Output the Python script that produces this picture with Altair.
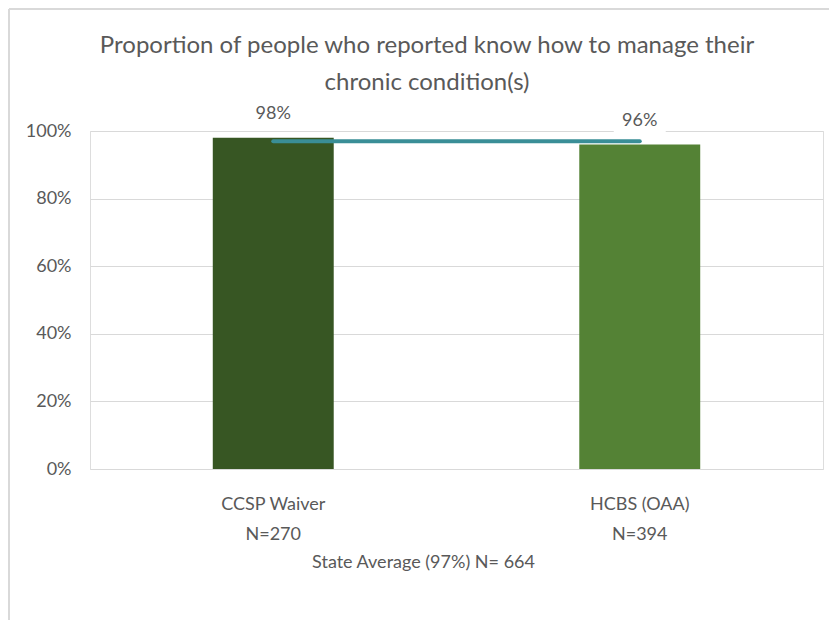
import altair as alt
import pandas as pd

# ---- data ----
categories = ["CCSP Waiver", "HCBS (OAA)"]
n_values = [270, 394]
shares = [0.98, 0.96]
state_average = 0.97
state_n = 664
bar_colors = ["#375623", "#548235"]

title_lines = ["Proportion of people who reported know how to manage their",
               "chronic condition(s)"]
y_ticks = [0, 0.2, 0.4, 0.6, 0.8, 1.0]

df = pd.DataFrame({
    "category": categories,
    "share": shares,
    "avg": [state_average] * len(categories),
})

label_lookup = {c: f"{c}\\nN={n}" for c, n in zip(categories, n_values)}
label_expr = "split(" + " : ".join(
    [f"datum.label === '{c}' ? '{t}'" for c, t in label_lookup.items()] + ["datum.label"]
) + ", '\\n')"

FONT = "Lato"
GREY = "#595959"
GRID = "#d9d9d9"

x_enc = alt.X(
    "category:N",
    sort=categories,
    scale=alt.Scale(paddingInner=0.67, paddingOuter=0.335),
    axis=alt.Axis(
        title=f"State Average ({round(state_average*100)}%) N= {state_n}",
        labelExpr=label_expr,
        labelAngle=0,
        labelFontSize=18,
        labelLineHeight=30,
        labelColor=GREY,
        labelFont=FONT,
        labelPadding=26,
        ticks=False,
        tickSize=0,
        domain=False,
        grid=False,
        titleFont=FONT,
        titleFontSize=18,
        titleFontWeight="normal",
        titleColor=GREY,
        titleX=333,
        titleY=93,
        titleAlign="center",
        titleBaseline="middle",
    ),
)

y_scale = alt.Scale(domain=[0, 1], nice=False)

bars = alt.Chart(df).mark_bar().encode(
    x=x_enc,
    y=alt.Y(
        "share:Q",
        scale=y_scale,
        axis=alt.Axis(
            title=None,
            values=y_ticks,
            format=".0%",
            labelFontSize=18,
            labelColor=GREY,
            labelFont=FONT,
            labelPadding=19,
            ticks=False,
            tickSize=0,
            domain=False,
            grid=True,
            gridColor=GRID,
            gridWidth=1.2,
        ),
    ),
    color=alt.Color("category:N", scale=alt.Scale(domain=categories, range=bar_colors), legend=None),
)

avg_line = alt.Chart(df).mark_line(
    color="#3a8e97", strokeWidth=4, strokeCap="round"
).encode(
    x=alt.X("category:N", sort=categories),
    y=alt.Y("avg:Q", scale=y_scale),
)

label_box = alt.Chart(df).mark_point(
    shape="M-1,-0.44L1,-0.44L1,0.44L-1,0.44Z",
    filled=True, color="white", opacity=1, size=2700, yOffset=-24,
).encode(
    x=alt.X("category:N", sort=categories),
    y=alt.Y("share:Q", scale=y_scale),
)

labels = alt.Chart(df).mark_text(
    font=FONT, fontSize=18, color=GREY, dy=-24, baseline="middle", align="center"
).encode(
    x=alt.X("category:N", sort=categories),
    y=alt.Y("share:Q", scale=y_scale),
    text=alt.Text("share:Q", format=".0%"),
)

border_left = alt.Chart(df).mark_rule(color=GRID, strokeWidth=2).encode(
    x=alt.value(-81), y=alt.value(-122), y2=alt.value(520)
)
border_top = alt.Chart(df).mark_rule(color=GRID, strokeWidth=2).encode(
    x=alt.value(-81), x2=alt.value(760), y=alt.value(-122)
)

chart = alt.layer(bars, label_box, avg_line, labels, border_left, border_top).properties(
    width=733,
    height=338,
    title=alt.TitleParams(
        text=title_lines,
        font=FONT,
        fontSize=24,
        fontWeight="normal",
        color=GREY,
        lineHeight=37,
        anchor="middle",
        dx=-29.5,
        dy=87,
        offset=0,
    ),
    autosize=alt.AutoSizeParams(type="none"),
    padding={"left": 82, "top": 123, "right": 6, "bottom": 160},
).configure_view(stroke=None).configure(background="white")

chart.save("out.html", embed_options={"renderer": "svg", "actions": False})
